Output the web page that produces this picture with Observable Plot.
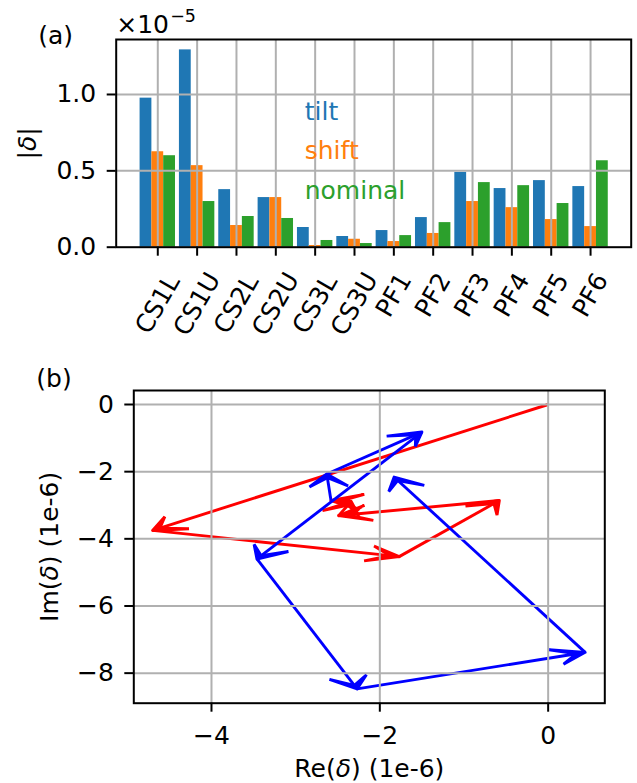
<!DOCTYPE html>
<html><head><meta charset="utf-8">
<script src="https://cdn.jsdelivr.net/npm/d3@7"></script>
<script src="https://cdn.jsdelivr.net/npm/@observablehq/plot@0.6"></script>
<style>
body{margin:0;background:#fff;}
#fig{width:637px;height:783px;position:relative;overflow:hidden;background:#fff;}
#fig svg{display:block;}
</style>
</head><body><div id="fig"></div>
<script>
// ---------- data: panel (a) ----------
const coils   = ["CS1L","CS1U","CS2L","CS2U","CS3L","CS3U","PF1","PF2","PF3","PF4","PF5","PF6"];
const tilt    = [0.976,1.292,0.377,0.325,0.129,0.070,0.109,0.194,0.490,0.384,0.436,0.397];
const shift   = [0.625,0.534,0.142,0.325,0.011,0.052,0.037,0.090,0.299,0.259,0.181,0.135];
const nominal = [0.599,0.299,0.201,0.188,0.044,0.024,0.076,0.161,0.423,0.403,0.286,0.566];
const seriesNames  = ["tilt","shift","nominal"];
const seriesColors = ["#1f77b4","#ff7f0e","#2ca02c"];
const yTicksA = [0, 0.5, 1.0];

// ---------- data: panel (b), path vertices (units 1e-6) ----------
const csRe = [0, -4.70, -1.77, -0.58, -2.49, -2.34, -2.58];
const csIm = [0, -3.75, -4.53, -2.86, -3.31, -2.89, -2.86];
const pfRe = [-2.58, -2.63, -1.50, -3.46, -2.27, 0.44, -1.83];
const pfIm = [-2.86, -2.07, -0.82, -4.60, -8.47, -7.38, -2.16];
const xTicksB = [-4, -2, 0];
const yTicksB = [0, -2, -4, -6, -8];

const FS = 25;
const FONT = "'DejaVu Sans', sans-serif";
const GRID = "#b0b0b0";

// ---------- panel (a) ----------
const idx = d3.range(coils.length);
const offsets = [-0.3, 0, 0.3];
const barW = 0.3;
const seriesVals = [tilt, shift, nominal];

const barMarks = seriesVals.map((vals, k) =>
  Plot.rect(idx, {
    x1: i => i + offsets[k] - barW / 2,
    x2: i => i + offsets[k] + barW / 2,
    y1: () => 0,
    y2: i => vals[i],
    fill: seriesColors[k]
  })
);
const legendDy = [80, 119, 159];
const legendMarks = seriesNames.map((s, k) =>
  Plot.text([s], {frameAnchor: "top-left", textAnchor: "start", lineAnchor: "bottom",
    dx: 188.5, dy: legendDy[k], fill: seriesColors[k], fontSize: FS})
);

const plotA = Plot.plot({
  width: 637, height: 345,
  marginLeft: 115.7, marginRight: 6.3, marginTop: 39, marginBottom: 98.3,
  style: {fontFamily: FONT, fontSize: FS + "px", color: "black", background: "white", overflow: "visible"},
  x: {type: "linear", domain: [-1.057, 12.033]},
  y: {type: "linear", domain: [0, 1.360]},
  marks: [
    ...barMarks,
    Plot.ruleX(idx, {stroke: GRID, strokeWidth: 2}),
    Plot.ruleY([0.5, 1.0], {stroke: GRID, strokeWidth: 2}),
    Plot.frame({stroke: "black", strokeWidth: 2}),
    Plot.axisY(yTicksA, {tickFormat: d3.format(".1f"), tickSize: 9, tickPadding: 11, fontSize: FS, strokeWidth: 2, label: null}),
    Plot.axisX(idx, {tickFormat: () => "", tickSize: 9, strokeWidth: 2, label: null}),
    Plot.text(idx.filter(i => coils[i].length > 3), {x: i => i, y: () => 0, text: i => coils[i],
      rotate: -60, dy: 57, textAnchor: "middle", lineAnchor: "middle", fontSize: FS}),
    Plot.text(idx.filter(i => coils[i].length <= 3), {x: i => i, y: () => 0, text: i => coils[i],
      rotate: -60, dy: 48, textAnchor: "middle", lineAnchor: "middle", fontSize: FS}),
    ...legendMarks,
    Plot.text(["|δ|"], {frameAnchor: "left", rotate: -90, dx: -88, textAnchor: "middle", lineAnchor: "middle", fontSize: FS}),
    Plot.text(["×10"], {frameAnchor: "top-left", textAnchor: "start", lineAnchor: "bottom", dx: 0, dy: -6.7, fontSize: FS}),
    Plot.text(["−5"], {frameAnchor: "top-left", textAnchor: "start", lineAnchor: "bottom", dx: 54, dy: -17.3, fontSize: 17.5}),
    Plot.text(["(a)"], {frameAnchor: "top-left", textAnchor: "start", lineAnchor: "bottom", dx: -78, dy: 4.4, fontSize: FS})
  ]
});

// ---------- panel (b): arrows (FancyArrow-like heads in data space) ----------
const HL = 0.37, HW = 0.23, OH = 0.7;
function arrowParts(re, im, tag) {
  const shafts = [], heads = [];
  for (let i = 0; i < re.length - 1; i++) {
    const x0 = re[i], y0 = im[i], x1 = re[i + 1], y1 = im[i + 1];
    const L = Math.hypot(x1 - x0, y1 - y0);
    const ux = (x1 - x0) / L, uy = (y1 - y0) / L, nx = -uy, ny = ux;
    const bx = x1 - HL * ux, by = y1 - HL * uy;
    const qx = x1 - HL * (1 - OH) * ux, qy = y1 - HL * (1 - OH) * uy;
    shafts.push({x1: x0, y1: y0, x2: qx, y2: qy});
    const id = tag + i;
    heads.push({id, x: x1, y: y1}, {id, x: bx + HW * nx, y: by + HW * ny},
               {id, x: qx, y: qy}, {id, x: bx - HW * nx, y: by - HW * ny}, {id, x: x1, y: y1});
  }
  return {shafts, heads};
}
const red = arrowParts(csRe, csIm, "r");
const blue = arrowParts(pfRe, pfIm, "b");
const arrowMarks = (parts, color) => [
  Plot.link(parts.shafts, {x1: "x1", y1: "y1", x2: "x2", y2: "y2", stroke: color, strokeWidth: 2.9}),
  Plot.line(parts.heads, {x: "x", y: "y", z: "id", fill: color, stroke: color, strokeWidth: 2.9,
    strokeLinejoin: "miter", strokeMiterlimit: 4, curve: "linear"})
];

const plotB = Plot.plot({
  width: 637, height: 438,
  marginLeft: 133.3, marginRight: 32.7, marginTop: 45, marginBottom: 80.3,
  style: {fontFamily: FONT, fontSize: FS + "px", color: "black", background: "white", overflow: "visible"},
  x: {type: "linear", domain: [-4.923, 0.673]},
  y: {type: "linear", domain: [-8.895, 0.417]},
  marks: [
    ...arrowMarks(red, "red"),
    ...arrowMarks(blue, "blue"),
    Plot.ruleX(xTicksB, {stroke: GRID, strokeWidth: 2}),
    Plot.ruleY(yTicksB, {stroke: GRID, strokeWidth: 2}),
    Plot.frame({stroke: "black", strokeWidth: 2}),
    Plot.axisX(xTicksB, {tickSize: 9, tickPadding: 14, fontSize: FS, strokeWidth: 2, label: null}),
    Plot.axisY(yTicksB, {tickSize: 9, tickPadding: 11, fontSize: FS, strokeWidth: 2, label: null}),
    Plot.text(["Re(δ) (1e-6)"], {frameAnchor: "bottom", textAnchor: "middle", lineAnchor: "bottom", dy: 73.5, fontSize: FS}),
    Plot.text(["Im(δ) (1e-6)"], {frameAnchor: "left", rotate: -90, dx: -84, textAnchor: "middle", lineAnchor: "middle", fontSize: FS}),
    Plot.text(["(b)"], {frameAnchor: "top-left", textAnchor: "start", lineAnchor: "bottom", dx: -97.5, dy: -3.3, fontSize: FS})
  ]
});

function italicizeDelta(svg) {
  svg.querySelectorAll("text").forEach(t => {
    if (t.children.length) return;
    const s = t.textContent;
    if (!s.includes("δ")) return;
    t.textContent = "";
    const parts = s.split("δ");
    parts.forEach((p, j) => {
      if (p) t.appendChild(document.createTextNode(p));
      if (j < parts.length - 1) {
        const ts = document.createElementNS("http://www.w3.org/2000/svg", "tspan");
        ts.setAttribute("font-style", "italic");
        ts.textContent = "δ";
        t.appendChild(ts);
      }
    });
  });
}
italicizeDelta(plotA);
italicizeDelta(plotB);
const fig = document.getElementById("fig");
fig.appendChild(plotA);
fig.appendChild(plotB);
</script>
</body></html>
